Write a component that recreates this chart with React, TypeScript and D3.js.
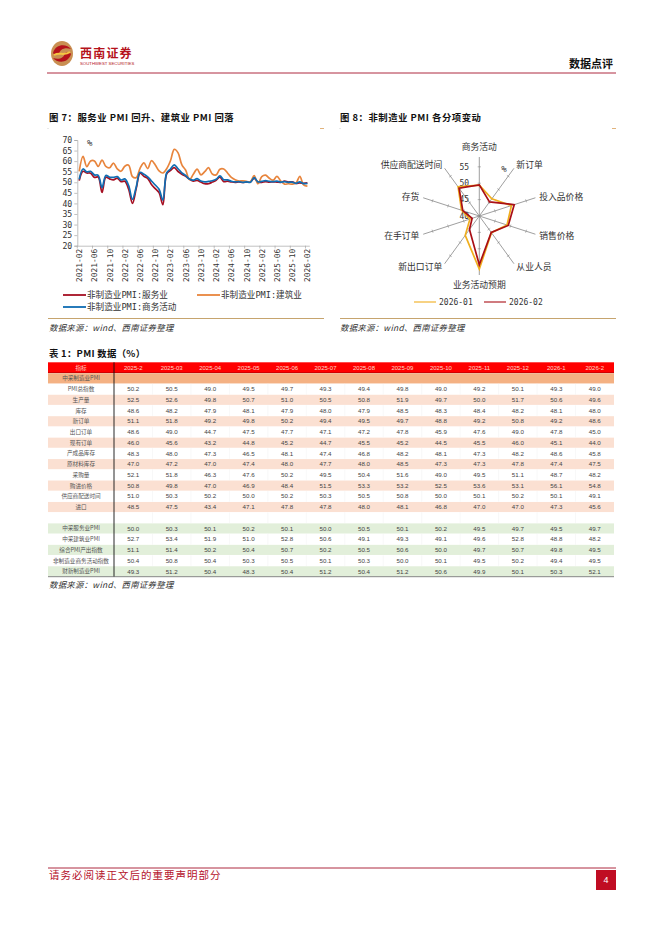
import React, { useEffect, useRef } from 'react';
import * as d3 from 'd3';

const CJK = '"Noto Sans CJK SC"';
const MONO = '"DejaVu Sans Mono","Noto Sans CJK SC"';
const ARIAL = '"Liberation Sans"';

// figure 7
const months: string[] = [];
for (const y of [2021, 2022, 2023, 2024, 2025, 2026]) {
  for (let m = 1; m <= 12; m++) {
    const k = y * 100 + m;
    if (k >= 202102 && k <= 202602) months.push(`${y}-${String(m).padStart(2, '0')}`);
  }
}
const services = [
  50.8, 55.2, 54.4, 54.3, 52.3, 52.5, 45.2, 52.4, 51.6, 51.1, 52.0,
  50.3, 50.5, 46.7, 40.0, 47.1, 54.3, 52.8, 51.9, 48.9, 47.0, 45.1, 39.4,
  54.0, 55.6, 56.9, 55.1, 53.8, 52.8, 51.5, 50.5, 50.9, 50.1, 49.3, 49.3,
  50.1, 51.0, 52.4, 50.3, 50.5, 50.2, 50.0, 50.2, 49.9, 50.1, 50.1, 52.0,
  50.0, 50.0, 50.3, 50.1, 50.2, 50.1, 50.0, 50.5, 50.1, 50.2, 49.5, 49.7,
  49.5, 49.7,
];
const construction = [
  55.2, 62.3, 57.4, 60.1, 60.1, 57.5, 60.5, 57.5, 56.9, 59.1, 56.3,
  55.2, 57.6, 58.1, 52.7, 52.2, 56.6, 59.2, 56.5, 60.2, 58.2, 55.4, 54.4,
  56.4, 60.2, 65.6, 63.9, 58.2, 55.7, 51.2, 53.8, 56.2, 53.5, 55.0, 56.9,
  53.9, 53.5, 56.2, 56.3, 54.4, 52.3, 51.2, 50.6, 50.7, 50.4, 50.2, 53.2,
  49.3, 52.7, 53.4, 51.9, 51.0, 52.8, 50.6, 49.1, 49.3, 49.1, 49.6, 52.8,
  48.8, 48.2,
];
const nonManufacturing = [
  51.4, 56.3, 54.9, 55.2, 53.5, 53.3, 47.5, 53.2, 52.4, 52.3, 52.7,
  51.1, 51.6, 48.4, 41.9, 47.8, 54.7, 53.8, 52.6, 50.6, 48.7, 46.7, 41.6,
  54.4, 56.3, 58.2, 56.4, 54.5, 53.2, 51.5, 51.0, 51.7, 50.6, 50.2, 50.4,
  50.7, 51.4, 53.0, 51.2, 51.1, 50.5, 50.2, 50.3, 50.0, 50.2, 50.0, 52.2,
  50.2, 50.4, 50.8, 50.4, 50.3, 50.5, 50.1, 50.3, 50.0, 50.1, 49.5, 50.2,
  49.4, 49.5,
];

// figure 8
const radarAxes = ['商务活动', '新订单', '投入品价格', '销售价格', '从业人员', '业务活动预期', '新出口订单', '在手订单', '存货', '供应商配送时间'];
const radarJan = [49.4, 46.5, 50.3, 48.9, 46.3, 56.2, 47.3, 43.0, 45.7, 51.0];
const radarFeb = [49.5, 45.3, 51.2, 49.3, 46.2, 54.9, 45.1, 42.3, 45.3, 50.5];
const radarTicks = [40, 45, 50, 55];

// table 1
const tableColumns = ['2025-2', '2025-03', '2025-04', '2025-05', '2025-06', '2025-07', '2025-08', '2025-09', '2025-10', '2025-11', '2025-12', '2026-1', '2026-2'];
const tableLabels = ['中采制造业PMI', 'PMI总指数', '生产量', '库存', '新订单', '出口订单', '现有订单', '产成品库存', '原材料库存', '采购量', '购进价格', '供应商配送时间', '进口', '', '中采服务业PMI', '中采建筑业PMI', '综合PMI产出指数', '非制造业商务活动指数', '财新制造业PMI'];
const tableValues: number[][] = [
  [],
  [50.2, 50.5, 49.0, 49.5, 49.7, 49.3, 49.4, 49.8, 49.0, 49.2, 50.1, 49.3, 49.0],
  [52.5, 52.6, 49.8, 50.7, 51.0, 50.5, 50.8, 51.9, 49.7, 50.0, 51.7, 50.6, 49.6],
  [48.6, 48.2, 47.9, 48.1, 47.9, 48.0, 47.9, 48.5, 48.3, 48.4, 48.2, 48.1, 48.0],
  [51.1, 51.8, 49.2, 49.8, 50.2, 49.4, 49.5, 49.7, 48.8, 49.2, 50.8, 49.2, 48.6],
  [48.6, 49.0, 44.7, 47.5, 47.7, 47.1, 47.2, 47.8, 45.9, 47.6, 49.0, 47.8, 45.0],
  [46.0, 45.6, 43.2, 44.8, 45.2, 44.7, 45.5, 45.2, 44.5, 45.5, 46.0, 45.1, 44.0],
  [48.3, 48.0, 47.3, 46.5, 48.1, 47.4, 46.8, 48.2, 48.1, 47.3, 48.2, 48.6, 45.8],
  [47.0, 47.2, 47.0, 47.4, 48.0, 47.7, 48.0, 48.5, 47.3, 47.3, 47.8, 47.4, 47.5],
  [52.1, 51.8, 46.3, 47.6, 50.2, 49.5, 50.4, 51.6, 49.0, 49.5, 51.1, 48.7, 48.2],
  [50.8, 49.8, 47.0, 46.9, 48.4, 51.5, 53.3, 53.2, 52.5, 53.6, 53.1, 56.1, 54.8],
  [51.0, 50.3, 50.2, 50.0, 50.2, 50.3, 50.5, 50.8, 50.0, 50.1, 50.2, 50.1, 49.1],
  [48.5, 47.5, 43.4, 47.1, 47.8, 47.8, 48.0, 48.1, 46.8, 47.0, 47.0, 47.3, 45.6],
  [],
  [50.0, 50.3, 50.1, 50.2, 50.1, 50.0, 50.5, 50.1, 50.2, 49.5, 49.7, 49.5, 49.7],
  [52.7, 53.4, 51.9, 51.0, 52.8, 50.6, 49.1, 49.3, 49.1, 49.6, 52.8, 48.8, 48.2],
  [51.1, 51.4, 50.2, 50.4, 50.7, 50.2, 50.5, 50.6, 50.0, 49.7, 50.7, 49.8, 49.5],
  [50.4, 50.8, 50.4, 50.3, 50.5, 50.1, 50.3, 50.0, 50.1, 49.5, 50.2, 49.4, 49.5],
  [49.3, 51.2, 50.4, 48.3, 50.4, 51.2, 50.4, 51.2, 50.6, 49.9, 50.1, 50.3, 52.1],
];
const rowFill = (i: number) => {
  if (i === 0) return '#f4b183';
  if (i >= 14) return i % 2 === 0 ? '#e2efda' : '#ffffff';
  return i % 2 === 0 ? '#fbe0d2' : '#ffffff';
};

const sourceText = '数据来源：wind、西南证券整理';

function drawLineChart(g: d3.Selection<SVGGElement, unknown, null, undefined>) {
  const x = d3.scaleBand<string>().domain(months).range([77.3, 309.3]);
  const y = d3.scaleLinear().domain([20, 70]).range([245.7, 140]);
  const cx = (d: string) => (x(d) as number) + x.bandwidth() / 2;

  const yAxis = d3.axisLeft(y).tickValues(d3.range(20, 71, 5)).tickSize(3).tickPadding(2);
  const ya = g.append('g').attr('transform', 'translate(77.3,0)').call(yAxis);
  ya.selectAll('text').attr('font-family', MONO).attr('font-size', 8.2).attr('fill', '#333');
  ya.selectAll('path,line').attr('stroke', '#a6a6a6').attr('stroke-width', 0.7);

  const xAxis = d3.axisBottom(x).tickValues(months.filter((_, i) => i % 4 === 0)).tickSize(0).tickPadding(3);
  const xa = g.append('g').attr('transform', 'translate(0,245.7)').call(xAxis);
  xa.select('path').attr('stroke', '#a6a6a6').attr('stroke-width', 0.7);
  xa.selectAll('text')
    .attr('font-family', MONO).attr('font-size', 7.9).attr('fill', '#333')
    .attr('text-anchor', 'end').attr('dx', -3).attr('dy', 0)
    .attr('transform', 'rotate(-90)').attr('x', 0).attr('y', 3);
  // tick marks sit between the categories
  months.forEach((_, i) => {
    if (i % 4 === 0) {
      const px = 77.3 + i * x.step();
      g.append('line').attr('x1', px).attr('x2', px).attr('y1', 245.7).attr('y2', 248.5)
        .attr('stroke', '#a6a6a6').attr('stroke-width', 0.7);
    }
  });

  const line = d3.line<number>().x((_, i) => cx(months[i])).y(d => y(d)).curve(d3.curveCatmullRom.alpha(0.5));
  const series: [number[], string][] = [[services, '#a50f22'], [construction, '#e8853d'], [nonManufacturing, '#0f6db3']];
  series.forEach(([vals, color]) => {
    g.append('path').attr('d', line(vals)).attr('fill', 'none').attr('stroke', color).attr('stroke-width', 1.7);
  });

  g.append('text').attr('x', 87).attr('y', 146).attr('font-family', MONO).attr('font-size', 9).attr('fill', '#333').text('%');

  const legend: [string, string, number, number][] = [
    ['非制造业PMI:服务业', '#a50f22', 63, 295],
    ['非制造业PMI:建筑业', '#e8853d', 197, 295],
    ['非制造业PMI:商务活动', '#0f6db3', 63, 307],
  ];
  legend.forEach(([label, color, lx, ly]) => {
    g.append('line').attr('x1', lx).attr('x2', lx + 23).attr('y1', ly).attr('y2', ly).attr('stroke', color).attr('stroke-width', 1.8);
    g.append('text').attr('x', lx + 24).attr('y', ly + 3).attr('font-family', MONO).attr('font-size', 8.6).attr('fill', '#333').text(label);
  });
}

function drawRadar(g: d3.Selection<SVGGElement, unknown, null, undefined>) {
  const cx = 479.3;
  const cy = 216;
  const radius = 59;
  const r = d3.scaleLinear().domain([40, 58]).range([0, radius]);
  const step = (Math.PI * 2) / radarAxes.length;
  const a = (i: number) => i * step;

  radarAxes.forEach((name, i) => {
    const s = Math.sin(a(i));
    const c = -Math.cos(a(i));
    g.append('line').attr('x1', cx).attr('y1', cy).attr('x2', cx + s * radius).attr('y2', cy + c * radius)
      .attr('stroke', '#868686').attr('stroke-width', 0.8);
    radarTicks.slice(1).forEach(t => {
      const px = cx + s * r(t);
      const py = cy + c * r(t);
      g.append('line').attr('x1', px - c * 1.6).attr('y1', py + s * 1.6).attr('x2', px + c * 1.6).attr('y2', py - s * 1.6)
        .attr('stroke', '#868686').attr('stroke-width', 0.6);
    });
    const vertical = i === 0 || i === 5;
    const lr = radius + (vertical ? 10 : 4);
    g.append('text')
      .attr('x', cx + s * lr).attr('y', cy + c * lr).attr('dy', '0.35em')
      .attr('text-anchor', vertical ? 'middle' : i < 5 ? 'start' : 'end')
      .attr('font-family', CJK).attr('font-size', 8.8).attr('fill', '#333').text(name);
  });

  radarTicks.forEach(t => {
    g.append('text').attr('x', cx - 15).attr('y', cy - r(t)).attr('dy', '0.35em').attr('text-anchor', 'middle')
      .attr('font-family', MONO).attr('font-size', 8).attr('fill', '#333').text(t);
  });
  g.append('text').attr('x', 504).attr('y', 172).attr('text-anchor', 'middle').attr('font-family', MONO).attr('font-size', 9).attr('fill', '#333').text('%');

  const radial = d3.lineRadial<number>().angle((_, i) => a(i)).radius(d => r(d)).curve(d3.curveLinearClosed);
  const series: [number[], string, number][] = [[radarJan, '#f0ae1e', 1.7], [radarFeb, '#a90f16', 1.7]];
  series.forEach(([vals, color, w]) => {
    g.append('path').attr('transform', `translate(${cx},${cy})`).attr('d', radial(vals)).attr('fill', 'none')
      .attr('stroke', color).attr('stroke-width', w).attr('stroke-linejoin', 'miter');
  });

  const legend: [string, string, number][] = [['2026-01', '#f0ae1e', 414], ['2026-02', '#a90f16', 484]];
  legend.forEach(([label, color, lx]) => {
    g.append('line').attr('x1', lx).attr('x2', lx + 22).attr('y1', 302).attr('y2', 302).attr('stroke', color).attr('stroke-width', 1.1);
    g.append('text').attr('x', lx + 25).attr('y', 305).attr('font-family', MONO).attr('font-size', 8).attr('fill', '#333').text(label);
  });
}

function drawTable(g: d3.Selection<SVGGElement, unknown, null, undefined>) {
  const top = 362.3;
  const rowH = 10.72;
  const left = 48;
  const labelW = 66;
  const x = d3.scaleBand<string>().domain(tableColumns).range([left + labelW, 614]);
  const y = d3.scaleBand<number>().domain(d3.range(tableLabels.length)).range([top + rowH, top + rowH * 20]);
  const cellCx = (c: string) => (x(c) as number) + x.bandwidth() / 2;

  g.append('rect').attr('x', left).attr('y', top).attr('width', 614 - left).attr('height', rowH).attr('fill', '#ff0000');
  g.append('line').attr('x1', left).attr('x2', 614).attr('y1', top + rowH - 0.2).attr('y2', top + rowH - 0.2).attr('stroke', '#7a0000').attr('stroke-width', 0.5);
  g.append('text').attr('x', left + labelW / 2).attr('y', top + rowH / 2).attr('dy', '0.35em').attr('text-anchor', 'middle')
    .attr('font-family', CJK).attr('font-size', 5.6).attr('fill', '#ffd9c8').text('指标');
  tableColumns.forEach(c => {
    g.append('text').attr('x', cellCx(c)).attr('y', top + rowH / 2).attr('dy', '0.35em').attr('text-anchor', 'middle')
      .attr('font-family', ARIAL).attr('font-size', 6).attr('fill', '#ffd9c8').text(c);
  });

  tableLabels.forEach((label, i) => {
    const ry = y(i) as number;
    g.append('rect').attr('x', left).attr('y', ry + 0.3).attr('width', 614 - left).attr('height', rowH - 0.6).attr('fill', rowFill(i));
    g.append('text').attr('x', left + labelW / 2).attr('y', ry + rowH / 2).attr('dy', '0.35em').attr('text-anchor', 'middle')
      .attr('font-family', CJK).attr('font-size', 5.6).attr('fill', '#555').text(label);
    tableValues[i].forEach((v, j) => {
      g.append('text').attr('x', cellCx(tableColumns[j])).attr('y', ry + rowH / 2).attr('dy', '0.35em').attr('text-anchor', 'middle')
        .attr('font-family', ARIAL).attr('font-size', 6.2).attr('fill', '#444').text(v.toFixed(1));
    });
    if (rowFill(i) === '#ffffff') {
      tableColumns.slice(1).forEach(c => {
        g.append('line').attr('x1', x(c) as number).attr('x2', x(c) as number).attr('y1', ry).attr('y2', ry + rowH)
          .attr('stroke', '#f0f0f0').attr('stroke-width', 0.5);
      });
    }
  });

  g.append('line').attr('x1', left + labelW).attr('x2', left + labelW).attr('y1', top).attr('y2', top + rowH * 20).attr('stroke', '#111').attr('stroke-width', 0.9);
  g.append('line').attr('x1', left).attr('x2', 614).attr('y1', top + rowH * 20).attr('y2', top + rowH * 20).attr('stroke', '#555').attr('stroke-width', 0.7);
}

function drawPage(g: d3.Selection<SVGGElement, unknown, null, undefined>) {
  const label = (t: string, px: number, py: number, size: number, weight = 400, fill = '#111', style = 'normal', spacing = 0) =>
    g.append('text').attr('x', px).attr('y', py).attr('font-family', CJK).attr('font-size', size)
      .attr('font-weight', weight).attr('fill', fill).attr('font-style', style).attr('letter-spacing', spacing).text(t);

  // logo
  g.append('ellipse').attr('cx', 62).attr('cy', 53.5).attr('rx', 11).attr('ry', 12.5).attr('fill', '#c98f52');
  g.append('path').attr('d', 'M 53 53 C 56 43, 67 44, 71 49 C 65 47, 60 49, 59 54 C 56 56, 54 55, 53 53 Z').attr('fill', '#b5121b');
  g.append('path').attr('d', 'M 71 54 C 68 64, 57 63, 53 58 C 59 60, 64 58, 65 53 C 68 51, 70 52, 71 54 Z').attr('fill', '#b5121b');
  g.append('path').attr('d', 'M 54 55 C 59 52, 65 56, 70 52').attr('fill', 'none').attr('stroke', '#f5c542').attr('stroke-width', 2);
  label('西南证券', 80, 58, 12, 700, '#b5121b', 'normal', 1.2);
  g.append('text').attr('x', 80).attr('y', 64.5).attr('font-family', ARIAL).attr('font-size', 4.3).attr('fill', '#b5121b').text('SOUTHWEST SECURITIES');

  label('数据点评', 569, 68, 11, 700);
  g.append('line').attr('x1', 47).attr('x2', 616).attr('y1', 73).attr('y2', 73).attr('stroke', '#a5122a').attr('stroke-width', 0.9);

  label('图 7：服务业 PMI 回升、建筑业 PMI 回落', 49, 121, 9.4, 700, '#111', 'normal', 0.5);
  label('图 8：非制造业 PMI 各分项变动', 340, 121, 9.4, 700, '#111', 'normal', 0.5);
  label('表 1：PMI 数据（%）', 49, 357, 9.4, 700, '#111', 'normal', 0.3);

  [[48, 324], [340, 616]].forEach(([a, b]) => {
    g.append('line').attr('x1', a).attr('x2', b).attr('y1', 318.5).attr('y2', 318.5).attr('stroke', '#bf9a5e').attr('stroke-width', 0.9);
    g.append('line').attr('x1', b - 4).attr('x2', b).attr('y1', 128.5).attr('y2', 128.5).attr('stroke', '#d9a05b').attr('stroke-width', 0.8);
    g.append('circle').attr('cx', a).attr('cy', 128.5).attr('r', 0.4).attr('fill', '#999');
  });
  label(sourceText, 49, 331, 8.4, 400, '#333', 'italic', 0.3);
  label(sourceText, 340, 331, 8.4, 400, '#333', 'italic', 0.3);
  label(sourceText, 49, 588, 8.4, 400, '#333', 'italic', 0.3);

  // footer
  g.append('line').attr('x1', 48).attr('x2', 616).attr('y1', 868).attr('y2', 868).attr('stroke', '#a5122a').attr('stroke-width', 0.9);
  label('请务必阅读正文后的重要声明部分', 49, 879, 10.5, 400, '#b5122b', 'normal', 1);
  g.append('rect').attr('x', 596).attr('y', 870).attr('width', 20).attr('height', 20).attr('fill', '#c00d23');
  g.append('text').attr('x', 606).attr('y', 883).attr('text-anchor', 'middle').attr('font-family', ARIAL).attr('font-size', 9).attr('fill', '#fff').text('4');
}

export default function App() {
  const ref = useRef<SVGSVGElement | null>(null);

  useEffect(() => {
    const svg = d3.select(ref.current as SVGSVGElement);
    svg.selectAll('*').remove();
    drawPage(svg.append('g'));
    drawLineChart(svg.append('g'));
    drawRadar(svg.append('g'));
    drawTable(svg.append('g'));
  }, []);

  return (
    <svg
      ref={ref}
      width={662}
      height={936}
      style={{ position: 'absolute', left: 0, top: 0, background: '#fff' }}
    />
  );
}
